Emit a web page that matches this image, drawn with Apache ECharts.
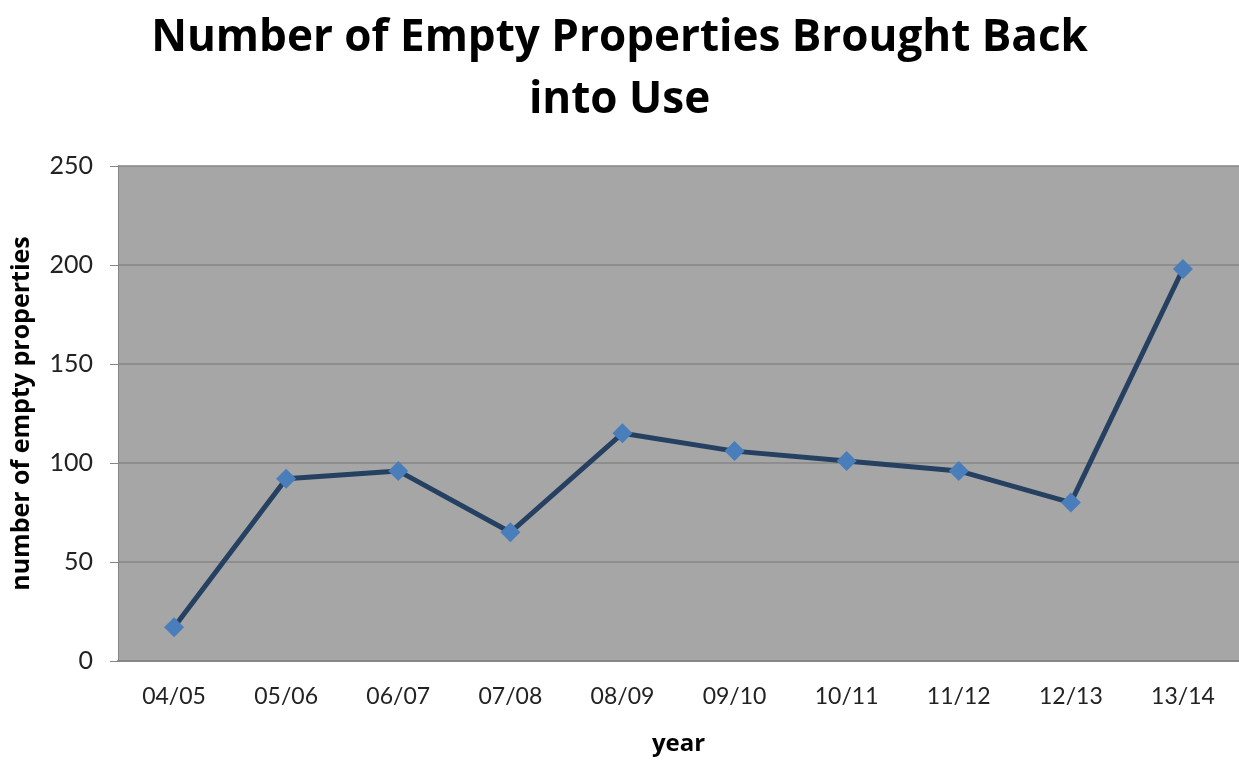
<!DOCTYPE html>
<html>
<head>
<meta charset="utf-8">
<script src="https://cdn.jsdelivr.net/npm/echarts@6/dist/echarts.min.js"></script>
<style>
  html, body { margin: 0; padding: 0; background: #fff; }
  #chart { width: 1239px; height: 761px; }
</style>
</head>
<body>
<div id="chart"></div>
<script>
const years = ["04/05", "05/06", "06/07", "07/08", "08/09", "09/10", "10/11", "11/12", "12/13", "13/14"];
const properties = [17, 92, 96, 65, 115, 106, 101, 96, 80, 198];
const yTicks = { min: 0, max: 250, interval: 50 };

const myChart = echarts.init(document.getElementById("chart"));
const option = {
  backgroundColor: "#fff",
  title: {
    text: "Number of Empty Properties Brought Back\ninto Use",
    left: "center",
    top: 2,
    textStyle: {
      fontFamily: "Open Sans",
      fontWeight: "bold",
      fontSize: 44,
      lineHeight: 62,
      color: "#000",
    },
  },
  grid: {
    left: 118,
    top: 166,
    width: 1124,
    bottom: 97,
    show: true,
    backgroundColor: "#a6a6a6",
    borderWidth: 0,
  },
  xAxis: {
    type: "category",
    data: years,
    name: "year",
    nameLocation: "middle",
    nameGap: 71,
    nameTextStyle: { fontFamily: "Open Sans", fontWeight: "bold", fontSize: 24, color: "#000" },
    axisLine: { lineStyle: { color: "#868686", width: 2 } },
    axisTick: { show: false },
    axisLabel: { fontFamily: "Lato", fontSize: 23, color: "#222", margin: 24 },
  },
  yAxis: {
    type: "value",
    min: yTicks.min,
    max: yTicks.max,
    interval: yTicks.interval,
    name: "number of empty properties",
    nameLocation: "middle",
    nameGap: 84,
    nameTextStyle: { fontFamily: "Open Sans", fontWeight: "bold", fontSize: 25, color: "#000" },
    axisLine: { show: true, lineStyle: { color: "#868686", width: 1 } },
    axisTick: { show: true, inside: false, length: 8, lineStyle: { color: "#868686" } },
    axisLabel: { fontFamily: "Lato", fontSize: 25, color: "#222", margin: 25 },
    splitLine: { lineStyle: { color: "#868686", width: 1.5 } },
  },
  series: [
    {
      type: "line",
      data: properties,
      symbol: "diamond",
      symbolSize: 20,
      lineStyle: { color: "#254061", width: 5 },
      itemStyle: { color: "#4a7ebb" },
      z: 3,
    },
  ],
};
myChart.setOption(option);
window.onresize = function () {
  myChart.resize();
};
</script>
</body>
</html>
